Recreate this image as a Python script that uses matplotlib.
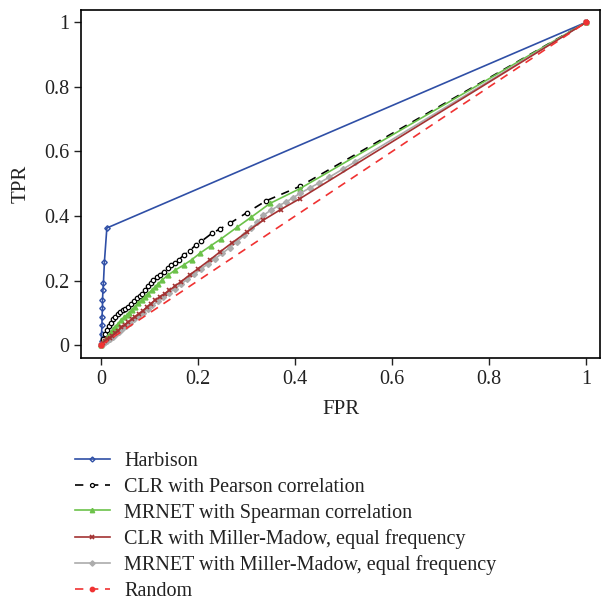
import numpy as np
import matplotlib.pyplot as plt
from matplotlib.ticker import FuncFormatter

plt.rcParams['font.family'] = 'Liberation Serif'

# ----------- ROC curves ----------- #
harbison_fpr = [0, 0.001, 0.001, 0.002, 0.002, 0.003, 0.003, 0.004, 0.005, 0.007, 0.012, 1]
harbison_tpr = [0, 0.012, 0.036, 0.062, 0.088, 0.114, 0.14, 0.171, 0.194, 0.259, 0.363, 1]

pearson_fpr = [0, 0.004, 0.008, 0.012, 0.016, 0.02, 0.025, 0.029, 0.035, 0.04, 0.045, 0.05,
               0.056, 0.062, 0.068, 0.074, 0.08, 0.084, 0.09, 0.096, 0.102, 0.108, 0.115,
               0.122, 0.13, 0.138, 0.145, 0.152, 0.16, 0.17, 0.183, 0.195, 0.207, 0.228,
               0.245, 0.265, 0.3, 0.34, 0.41, 1]
pearson_tpr = [0, 0.02, 0.035, 0.048, 0.06, 0.07, 0.08, 0.088, 0.096, 0.103, 0.108, 0.113,
               0.119, 0.127, 0.136, 0.145, 0.154, 0.16, 0.171, 0.182, 0.192, 0.201, 0.211,
               0.219, 0.228, 0.238, 0.248, 0.256, 0.265, 0.278, 0.293, 0.31, 0.322, 0.346,
               0.36, 0.377, 0.41, 0.447, 0.492, 1]

spearman_fpr = [0, 0.005, 0.01, 0.015, 0.02, 0.025, 0.029, 0.035, 0.041, 0.047, 0.053, 0.058,
                0.063, 0.07, 0.077, 0.084, 0.09, 0.097, 0.104, 0.111, 0.118, 0.125, 0.138,
                0.152, 0.17, 0.187, 0.204, 0.226, 0.248, 0.28, 0.31, 0.348, 0.41, 1]
spearman_tpr = [0, 0.01, 0.02, 0.03, 0.04, 0.049, 0.057, 0.067, 0.077, 0.086, 0.094, 0.101,
                0.108, 0.119, 0.13, 0.14, 0.15, 0.16, 0.17, 0.18, 0.19, 0.201, 0.217,
                0.232, 0.248, 0.265, 0.285, 0.308, 0.33, 0.365, 0.397, 0.439, 0.485, 1]

clr_mm_fpr = [0, 0.004, 0.008, 0.013, 0.018, 0.023, 0.029, 0.035, 0.042, 0.049, 0.056, 0.063,
              0.07, 0.078, 0.086, 0.094, 0.102, 0.111, 0.121, 0.131, 0.141, 0.152, 0.165,
              0.183, 0.2, 0.224, 0.246, 0.269, 0.3, 0.334, 0.37, 0.41, 1]
clr_mm_tpr = [0, 0.006, 0.012, 0.018, 0.024, 0.03, 0.037, 0.045, 0.055, 0.064, 0.072, 0.08,
              0.088, 0.097, 0.107, 0.117, 0.128, 0.139, 0.15, 0.16, 0.17, 0.183, 0.197,
              0.218, 0.237, 0.264, 0.29, 0.316, 0.35, 0.387, 0.42, 0.454, 1]

mrnet_mm_fpr = [0, 0.004, 0.008, 0.013, 0.018, 0.024, 0.03, 0.037, 0.044, 0.052, 0.06, 0.068,
                0.077, 0.086, 0.096, 0.106, 0.117, 0.128, 0.14, 0.152, 0.165, 0.178, 0.192,
                0.206, 0.22, 0.235, 0.25, 0.265, 0.28, 0.295, 0.31, 0.322, 0.334, 0.35,
                0.366, 0.382, 0.396, 0.41, 0.43, 0.45, 0.47, 0.498, 0.523, 1]
mrnet_mm_tpr = [0, 0.004, 0.009, 0.014, 0.02, 0.027, 0.034, 0.042, 0.051, 0.06, 0.07, 0.08,
                0.09, 0.1, 0.112, 0.124, 0.137, 0.149, 0.162, 0.175, 0.189, 0.205, 0.22,
                0.236, 0.252, 0.268, 0.285, 0.302, 0.32, 0.34, 0.362, 0.38, 0.402, 0.418,
                0.432, 0.444, 0.457, 0.47, 0.487, 0.503, 0.52, 0.545, 0.567, 1]

random_fpr = [0, 1]
random_tpr = [0, 1]

labels = ['Harbison',
          'CLR with Pearson correlation',
          'MRNET with Spearman correlation',
          'CLR with Miller-Madow, equal frequency',
          'MRNET with Miller-Madow, equal frequency',
          'Random']

# ----------- Plot ----------- #
fig = plt.figure(figsize=(6.01, 6.02), dpi=100)
ax = fig.add_axes([0.135, 0.405, 0.864, 0.578])

ax.plot(harbison_fpr, harbison_tpr, '-', color='#2f4fa6', lw=1.2, marker='D', ms=2.8,
        mfc='none', mew=1.0, label=labels[0])
ax.plot(pearson_fpr, pearson_tpr, '--', color='black', lw=1.2, marker='o', ms=3.2,
        mfc='white', mew=0.9, dashes=(5, 4), label=labels[1])
ax.plot(spearman_fpr, spearman_tpr, '-', color='#6cc24a', lw=1.2, marker='^', ms=3.5,
        label=labels[2])
ax.plot(mrnet_mm_fpr, mrnet_mm_tpr, '-', color='#acacac', lw=1.2, marker='D', ms=3,
        label=labels[4])
ax.plot(clr_mm_fpr, clr_mm_tpr, '-', color='#a33232', lw=1.2, marker='x', ms=3,
        mew=1.2, label=labels[3])
ax.plot(random_fpr, random_tpr, '--', color='#f03232', lw=1.2, marker='o', ms=3.5,
        dashes=(5, 4), label=labels[5])

ax.set_xlim(-0.041, 1.029)
ax.set_ylim(-0.040, 1.037)
ticks = [0, 0.2, 0.4, 0.6, 0.8, 1]
ax.set_xticks(ticks)
ax.set_yticks(ticks)
fmt = FuncFormatter(lambda v, p: '%g' % v)
ax.xaxis.set_major_formatter(fmt)
ax.yaxis.set_major_formatter(fmt)
ax.tick_params(axis='both', direction='out', length=5, width=1, labelsize=14.5, colors='#222222')
for s in ax.spines.values():
    s.set_linewidth(1.2)
ax.set_xlabel('FPR', fontsize=15, color='#222222', labelpad=8)
ax.set_ylabel('TPR', fontsize=15, color='#222222', labelpad=10)

handles, labs = ax.get_legend_handles_labels()
order = [labs.index(l) for l in labels]
fig.legend([handles[i] for i in order], labels, loc='upper left',
           bbox_to_anchor=(0.111, 0.262), frameon=False, fontsize=14.5,
           handlelength=1.75, handletextpad=0.7, labelspacing=0.32, borderaxespad=0,
           markerscale=0.9, labelcolor='#222222')

fig.savefig('out.png', dpi=100)
